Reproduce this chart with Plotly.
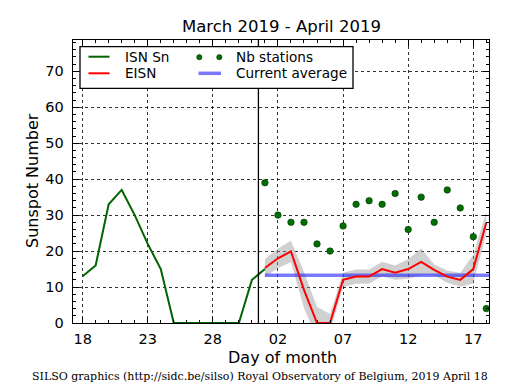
import pandas as pd
import plotly.graph_objects as go

# ---------------- data ----------------
isn_dates = pd.date_range("2019-03-18", "2019-04-01", freq="D")
isn_values = [13, 16, 33, 37, 30, 22, 15, 0, 0, 0, 0, 0, 0, 12, 15]

eisn_dates = pd.date_range("2019-04-01", "2019-04-18", freq="D")
eisn_values = [15.3, 18.0, 19.9, 9.2, 0, 0, 12.0, 12.9, 12.9, 15.0, 14.0, 15.0,
               17.0, 14.8, 12.9, 12.0, 15.0, 27.9]
eisn_error = [2.5, 2.7, 3.0, 5.0, 4.5, 2.5, 2.0, 2.0, 2.0, 2.0, 2.0, 2.7,
              3.7, 1.5, 1.7, 1.9, 4.0, 3.0]
nb_stations = [39, 30, 28, 28, 22, 20, 27, 33, 34, 33, 36, 26, 35, 28, 37, 32, 24, 4]

current_average = 13.3
average_start = "2019-04-01"
average_end = "2019-04-19"
month_boundary = "2019-03-31 12:00"

x_range = ["2019-03-17 06:15", "2019-04-18 05:00"]
y_range = [0, 78.7]
y_ticks = [0, 10, 20, 30, 40, 50, 60, 70]

title_text = "March 2019 - April 2019"
footer_text = "SILSO graphics (http://sidc.be/silso) Royal Observatory of Belgium, 2019 April 18"

# ---------------- figure ----------------
upper = [v + e for v, e in zip(eisn_values, eisn_error)]
lower = [v - e for v, e in zip(eisn_values, eisn_error)]

fig = go.Figure()
fig.add_trace(go.Scatter(x=eisn_dates, y=upper, mode="lines", line=dict(width=0),
                         hoverinfo="skip", showlegend=False))
fig.add_trace(go.Scatter(x=eisn_dates, y=lower, mode="lines", line=dict(width=0),
                         fill="tonexty", fillcolor="rgba(150,150,150,0.45)",
                         hoverinfo="skip", showlegend=False))
fig.add_trace(go.Scatter(x=[average_start, average_end], y=[current_average, current_average],
                         mode="lines", line=dict(color="rgba(40,40,255,0.62)", width=3.5),
                         name="Current average", showlegend=False))
fig.add_trace(go.Scatter(x=isn_dates, y=isn_values, mode="lines",
                         line=dict(color="#006400", width=2), name="ISN Sn", showlegend=False))
fig.add_trace(go.Scatter(x=eisn_dates, y=eisn_values, mode="lines",
                         line=dict(color="#ff0000", width=2), name="EISN", showlegend=False))
fig.add_trace(go.Scatter(x=eisn_dates, y=nb_stations, mode="markers",
                         marker=dict(color="#007000", size=6.5,
                                     line=dict(color="#003000", width=0.6)),
                         name="Nb stations", showlegend=False, cliponaxis=False))

# month separator
fig.add_shape(type="line", xref="x", yref="paper", x0=month_boundary, x1=month_boundary,
              y0=0, y1=1, line=dict(color="black", width=1.3))

# ---------------- manual legend ----------------
W, H = 515, 390
ml, mr, mt, mb = 73, 26, 40, 67
pw, ph = W - ml - mr, H - mt - mb


def px(xp):
    return (xp - ml) / pw


def py(yp):
    return 1 - (yp - mt) / ph


fig.add_shape(type="rect", xref="paper", yref="paper", x0=px(80), x1=px(353),
              y0=py(88.3), y1=py(46.7), line=dict(color="black", width=1.3),
              fillcolor="white", layer="above")
legend_lines = [("ISN Sn", "#006400", 2, 88.5, 109.5, 56.7, 123.3),
                ("EISN", "#ff0000", 2, 88.5, 109.5, 73.3, 123.3),
                ("Current average", "rgba(40,40,255,0.62)", 3.5, 198.5, 221, 73.3, 234)]
for name, col, wd, x0, x1, yy, tx in legend_lines:
    fig.add_shape(type="line", xref="paper", yref="paper", x0=px(x0), x1=px(x1),
                  y0=py(yy), y1=py(yy), line=dict(color=col, width=wd), layer="above")
    fig.add_annotation(text=name, xref="paper", yref="paper", x=px(tx), y=py(yy),
                       xanchor="left", yanchor="middle", showarrow=False,
                       font=dict(size=13.6, color="black"))
for cx in (199.3, 219.3):
    r = 2.6
    fig.add_shape(type="circle", xref="paper", yref="paper", x0=px(cx - r), x1=px(cx + r),
                  y0=py(57.2 + r), y1=py(57.2 - r), fillcolor="#007000",
                  line=dict(color="#003000", width=0.6), layer="above")
fig.add_annotation(text="Nb stations", xref="paper", yref="paper", x=px(234), y=py(57),
                   xanchor="left", yanchor="middle", showarrow=False,
                   font=dict(size=13.6, color="black"))

# axis titles, title, footer
fig.add_annotation(text="Sunspot Number", xref="paper", yref="paper", x=px(32), y=py(181),
                   textangle=-90, showarrow=False, xanchor="center", yanchor="middle",
                   font=dict(size=16, color="black"))
fig.add_annotation(text="Day of month", xref="paper", yref="paper", x=px(282), y=py(357),
                   showarrow=False, xanchor="center", yanchor="middle",
                   font=dict(size=16, color="black"))
fig.add_annotation(text=title_text, xref="paper", yref="paper", x=px(281), y=py(27),
                   showarrow=False, xanchor="center", yanchor="middle",
                   font=dict(size=16.5, color="black"))
fig.add_annotation(text=footer_text, xref="paper", yref="paper", x=px(260), y=py(376),
                   showarrow=False, xanchor="center", yanchor="middle",
                   font=dict(size=11, color="black", family="DejaVu Serif"))

axis_common = dict(showline=True, linecolor="black", linewidth=1.3, mirror="allticks",
                   ticks="inside", ticklen=6, tickwidth=1, tickcolor="black",
                   showgrid=True, gridcolor="black", gridwidth=0.8, griddash="dot",
                   zeroline=False, tickfont=dict(size=14.5, color="black"))

fig.update_xaxes(type="date", range=x_range, tick0="2019-03-18", dtick=5 * 86400000,
                 tickformat="%d", ticklabelstandoff=2,
                 minor=dict(dtick=86400000, tick0="2019-03-18", ticks="inside", ticklen=3,
                            tickcolor="black", showgrid=False),
                 **axis_common)
fig.update_yaxes(range=y_range, tickvals=y_ticks, ticklabelstandoff=5,
                 minor=dict(dtick=2, tick0=0, ticks="inside", ticklen=3,
                            tickcolor="black", showgrid=False),
                 **axis_common)

fig.update_layout(width=W, height=H, margin=dict(l=ml, r=mr, t=mt, b=mb),
                  paper_bgcolor="white", plot_bgcolor="white",
                  font=dict(family="DejaVu Sans", color="black"),
                  showlegend=False, hovermode=False)

fig.write_html("out.html", config={"displayModeBar": False, "staticPlot": True},
               post_script="document.body.style.margin='0';")
